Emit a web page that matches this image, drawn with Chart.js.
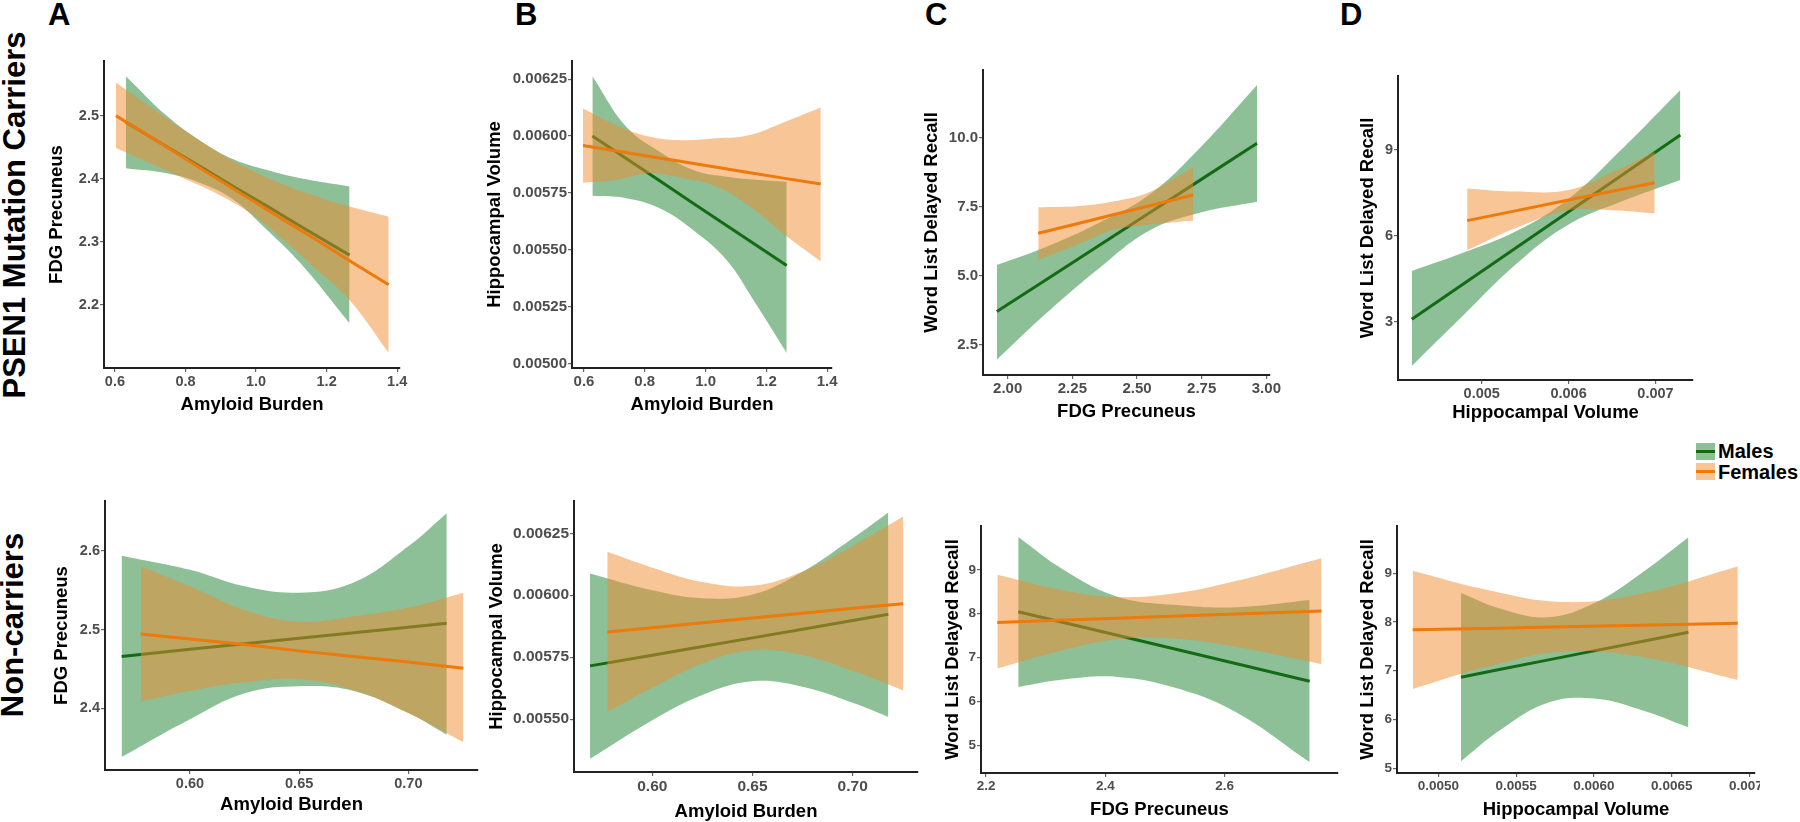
<!DOCTYPE html>
<html>
<head>
<meta charset="utf-8">
<script src="https://cdn.jsdelivr.net/npm/chart.js@4.4.0/dist/chart.umd.min.js"></script>
<style>
  html, body { margin: 0; padding: 0; background: #fff; }
  body { width: 1800px; height: 822px; position: relative; overflow: hidden; font-family: 'Liberation Sans', Arial, sans-serif; }
  canvas { position: absolute; }
  .letter { position: absolute; font-weight: bold; font-size: 31px; line-height: 31px; color: #000; }
  .row { position: absolute; font-weight: bold; font-size: 31px; line-height: 32px; white-space: nowrap; color: #000;
         transform: translate(-50%, -50%) rotate(-90deg); }
  .key { position: absolute; left: 1696px; width: 19px; height: 17px; }
  .key span { position: absolute; left: 0; right: 0; top: 7px; height: 3px; }
  .lab { position: absolute; left: 1718px; font-weight: bold; font-size: 20px; line-height: 20px; color: #000; }
</style>
</head>
<body>

<div class="row" style="left:15px; top:215px;">PSEN1 Mutation Carriers</div>
<div class="row" style="left:13px; top:625px;">Non-carriers</div>
<div class="letter" style="left:48px; top:-1px;">A</div>
<div class="letter" style="left:515px; top:-1px;">B</div>
<div class="letter" style="left:925px; top:-1px;">C</div>
<div class="letter" style="left:1340px; top:-1px;">D</div>

<div class="key" style="top:443px; background:rgba(30,130,50,0.5);"><span style="background:#156b15;"></span></div>
<div class="key" style="top:463px; background:rgba(240,140,45,0.5);"><span style="background:#ec7a0c;"></span></div>
<div class="lab" style="top:441px;">Males</div>
<div class="lab" style="top:462px;">Females</div>

<script>
// rows are [x, lower CI, fitted value, upper CI]

// A: carriers, FDG precuneus vs amyloid burden
const aMale = [
  [0.631, 2.417, 2.490, 2.563],
  [0.747, 2.409, 2.451, 2.500],
  [0.841, 2.394, 2.420, 2.461],
  [0.936, 2.367, 2.388, 2.431],
  [1.031, 2.319, 2.357, 2.414],
  [1.126, 2.266, 2.325, 2.401],
  [1.265, 2.171, 2.279, 2.388]
];
const aFemale = [
  [0.603, 2.449, 2.500, 2.553],
  [0.699, 2.425, 2.467, 2.515],
  [0.794, 2.401, 2.434, 2.478],
  [0.888, 2.377, 2.401, 2.444],
  [0.983, 2.346, 2.368, 2.415],
  [1.078, 2.303, 2.335, 2.391],
  [1.172, 2.256, 2.303, 2.372],
  [1.265, 2.208, 2.270, 2.356],
  [1.376, 2.124, 2.232, 2.340]
];
const aXTicks = ['0.6', '0.8', '1.0', '1.2', '1.4'];
const aYTicks = ['2.2', '2.3', '2.4', '2.5'];
const aXRange = [0.569, 1.408];
const aYRange = [2.100, 2.587];

// B: carriers, hippocampal volume vs amyloid burden
const bMale = [
  [0.6275, 0.005737, 0.006000, 0.006263],
  [0.739, 0.005727, 0.005901, 0.006041],
  [0.849, 0.005683, 0.005803, 0.005931],
  [0.959, 0.005587, 0.005705, 0.005851],
  [1.069, 0.005455, 0.005607, 0.005821],
  [1.157, 0.005280, 0.005529, 0.005809],
  [1.267, 0.005046, 0.005431, 0.005799]
];
const bFemale = [
  [0.5967, 0.005795, 0.005958, 0.006121],
  [0.7066, 0.005807, 0.005934, 0.006048],
  [0.8165, 0.005836, 0.005910, 0.005997],
  [0.9264, 0.005814, 0.005887, 0.005982],
  [1.0363, 0.005778, 0.005863, 0.005990],
  [1.146, 0.005690, 0.005839, 0.006005],
  [1.256, 0.005570, 0.005815, 0.006060],
  [1.379, 0.005448, 0.005789, 0.006126]
];
const bXTicks = ['0.6', '0.8', '1.0', '1.2', '1.4'];
const bYTicks = ['0.00500', '0.00525', '0.00550', '0.00575', '0.00600', '0.00625'];
const bXRange = [0.5605, 1.416];
const bYRange = [0.00498, 0.00633];

// C: carriers, word list delayed recall vs FDG precuneus
const cMale = [
  [1.958, 1.96, 3.71, 5.39],
  [2.15, 3.65, 4.87, 6.05],
  [2.35, 5.25, 6.08, 6.90],
  [2.55, 6.65, 7.29, 7.95],
  [2.75, 7.30, 8.50, 9.70],
  [2.964, 7.68, 9.80, 11.91]
];
const cFemale = [
  [2.118, 5.57, 6.54, 7.48],
  [2.280, 6.17, 6.91, 7.53],
  [2.408, 6.66, 7.21, 7.69],
  [2.537, 6.84, 7.51, 7.99],
  [2.666, 6.96, 7.81, 8.65],
  [2.717, 6.99, 7.93, 8.95]
];
const cXTicks = ['2.00', '2.25', '2.50', '2.75', '3.00'];
const cYTicks = ['2.5', '5.0', '7.5', '10.0'];
const cXRange = [1.9045, 3.014];
const cYRange = [1.41, 12.45];

// D: carriers, word list delayed recall vs hippocampal volume
const dMale = [
  [0.004195, 1.465, 3.093, 4.78],
  [0.0048, 3.27, 4.351, 5.43],
  [0.0054, 5.03, 5.598, 6.17],
  [0.006, 6.40, 6.846, 7.30],
  [0.0066, 7.19, 8.094, 8.99],
  [0.007286, 7.95, 9.52, 11.09]
];
const dFemale = [
  [0.004832, 5.51, 6.535, 7.66],
  [0.0054, 6.29, 6.884, 7.55],
  [0.006, 6.90, 7.252, 7.60],
  [0.0065, 6.90, 7.559, 8.22],
  [0.006991, 6.79, 7.86, 8.94]
];
const dXTicks = ['0.005', '0.006', '0.007'];
const dYTicks = ['3', '6', '9'];
const dXRange = [0.004036, 0.007432];
const dYRange = [0.977, 11.58];

// E: non-carriers, FDG precuneus vs amyloid burden
const eMale = [
  [0.5687, 2.338, 2.466, 2.594],
  [0.600, 2.386, 2.475, 2.576],
  [0.625, 2.419, 2.482, 2.555],
  [0.650, 2.428, 2.489, 2.547],
  [0.675, 2.422, 2.496, 2.560],
  [0.700, 2.394, 2.503, 2.606],
  [0.7176, 2.3665, 2.508, 2.648]
];
const eFemale = [
  [0.5774, 2.409, 2.4945, 2.5805],
  [0.600, 2.422, 2.488, 2.555],
  [0.625, 2.433, 2.481, 2.525],
  [0.650, 2.437, 2.473, 2.510],
  [0.675, 2.423, 2.466, 2.517],
  [0.700, 2.394, 2.459, 2.528],
  [0.7252, 2.357, 2.451, 2.547]
];
const eXTicks = ['0.60', '0.65', '0.70'];
const eYTicks = ['2.4', '2.5', '2.6'];
const eXRange = [0.5611, 0.7319];
const eYRange = [2.3216, 2.6635];

// F: non-carriers, hippocampal volume vs amyloid burden
const fMale = [
  [0.5689, 0.005340, 0.005715, 0.006088],
  [0.600, 0.005496, 0.005758, 0.006020],
  [0.625, 0.005598, 0.005793, 0.005988],
  [0.650, 0.005653, 0.005828, 0.006003],
  [0.675, 0.005631, 0.005863, 0.006095],
  [0.700, 0.005566, 0.005898, 0.006230],
  [0.7178, 0.005509, 0.005923, 0.006334]
];
const fFemale = [
  [0.5775, 0.005529, 0.005852, 0.006175],
  [0.600, 0.005627, 0.005869, 0.006111],
  [0.625, 0.005725, 0.005889, 0.006053],
  [0.650, 0.005778, 0.005908, 0.006038],
  [0.675, 0.005758, 0.005927, 0.006096],
  [0.700, 0.005695, 0.005947, 0.006199],
  [0.7252, 0.005616, 0.005966, 0.006317]
];
const fXTicks = ['0.60', '0.65', '0.70'];
const fYTicks = ['0.00550', '0.00575', '0.00600', '0.00625'];
const fXRange = [0.5609, 0.7326];
const fYRange = [0.005287, 0.00638];

// G: non-carriers, word list delayed recall vs FDG precuneus
const gMale = [
  [2.254, 6.333, 8.047, 9.747],
  [2.33, 6.50, 7.801, 9.00],
  [2.42, 6.56, 7.509, 8.39],
  [2.52, 6.30, 7.185, 8.20],
  [2.62, 5.75, 6.861, 8.15],
  [2.7425, 4.618, 6.463, 8.314]
];
const gFemale = [
  [2.219, 6.753, 7.80, 8.886],
  [2.32, 7.14, 7.849, 8.56],
  [2.42, 7.42, 7.897, 8.38],
  [2.52, 7.43, 7.946, 8.47],
  [2.62, 7.24, 7.994, 8.75],
  [2.7623, 6.851, 8.063, 9.267]
];
const gXTicks = ['2.2', '2.4', '2.6'];
const gYTicks = ['5', '6', '7', '8', '9'];
const gXRange = [2.1916, 2.790];
const gYRange = [4.37, 10.0];

// H: non-carriers, word list delayed recall vs hippocampal volume
const hMale = [
  [0.005145, 5.14, 6.867, 8.594],
  [0.0054, 5.786, 7.028, 8.27],
  [0.0057, 6.337, 7.217, 8.097],
  [0.006, 6.429, 7.407, 8.385],
  [0.0063, 6.20, 7.596, 8.992],
  [0.006607, 5.84, 7.79, 9.74]
];
const hFemale = [
  [0.004835, 6.624, 7.838, 9.052],
  [0.0053, 7.069, 7.868, 8.667],
  [0.0058, 7.39, 7.90, 8.41],
  [0.0063, 7.286, 7.933, 8.58],
  [0.006924, 6.81, 7.974, 9.138]
];
const hXTicks = ['0.0050', '0.0055', '0.0060', '0.0065', '0.0070'];
const hYTicks = ['5', '6', '7', '8', '9'];
const hXRange = [0.004734, 0.007035];
const hYRange = [4.9, 9.97];

const amyloid = 'Amyloid Burden';
const fdg = 'FDG Precuneus';
const hippo = 'Hippocampal Volume';
const recall = 'Word List Delayed Recall';

const maleLine = '#156b15';
const maleFill = 'rgba(30,130,50,0.5)';
const femaleLine = '#ec7a0c';
const femaleFill = 'rgba(240,140,45,0.5)';
const none = 'rgba(0,0,0,0)';
const fontFamily = "'Liberation Sans', Arial, sans-serif";

function col(rows, k) {
    return rows.map(r => ({ x: r[0], y: r[k] }));
}

function sexSets(rows, line, fill) {
    return [
        { data: col(rows, 2), borderColor: line, borderWidth: 3, pointRadius: 0, fill: false, tension: 0 },
        { data: col(rows, 3), borderColor: none, borderWidth: 0, pointRadius: 0, fill: '+1',
          backgroundColor: fill, tension: 0.4 },
        { data: col(rows, 1), borderColor: none, borderWidth: 0, pointRadius: 0, fill: false, tension: 0.4 }
    ];
}

function axis(range, ticks, title, size, titleSize, fitFn) {
    return {
        type: 'linear',
        min: range[0],
        max: range[1],
        afterBuildTicks: s => { s.ticks = ticks.map(t => ({ value: parseFloat(t) })); },
        afterFit: fitFn,
        ticks: {
            autoSkip: false, maxRotation: 0, padding: 1, color: '#4d4d4d',
            font: { family: fontFamily, size: size, weight: 'bold' },
            callback: (v, i) => ticks[i]
        },
        grid: { drawOnChartArea: false, drawTicks: true, tickLength: 4, color: '#666', lineWidth: 1.2 },
        border: { display: true, color: '#222', width: 2 },
        title: { display: true, text: title, color: '#000', padding: 0,
                 font: { family: fontFamily, size: titleSize, weight: 'bold' } }
    };
}

// box: plot area edges on the page plus the room left for the y axis (ml) and x axis (mb)
function panel(box, male, female, xr, yr, xt, yt, xTitle, yTitle) {
    const padTop = 10;
    const pr = box.pr === undefined ? 20 : box.pr;
    const canvas = document.createElement('canvas');
    const w = Math.round(box.ml + (box.R - box.L) + pr);
    const h = Math.round(padTop + (box.B - box.T) + box.mb);
    canvas.width = w;
    canvas.height = h;
    canvas.style.width = w + 'px';
    canvas.style.height = h + 'px';
    canvas.style.left = (box.L - box.ml) + 'px';
    canvas.style.top = (box.T - padTop) + 'px';
    document.body.appendChild(canvas);

    new Chart(canvas, {
        type: 'line',
        data: { datasets: sexSets(female, femaleLine, femaleFill).concat(sexSets(male, maleLine, maleFill)) },
        options: {
            responsive: false,
            animation: false,
            devicePixelRatio: 1,
            layout: { padding: { top: padTop, right: pr, left: 0, bottom: 0 } },
            plugins: { legend: { display: false }, tooltip: { enabled: false } },
            scales: {
                x: axis(xr, xt, xTitle, box.tick, 18.5, s => {
                    s.height = box.mb; s.paddingLeft = 0; s.paddingRight = 0;
                }),
                y: axis(yr, yt, yTitle, box.tick, 18.5, s => {
                    s.width = box.ml; s.paddingTop = 0; s.paddingBottom = 0;
                })
            }
        }
    });
}

panel({ L: 104, T: 61, R: 400, B: 368, ml: 58, mb: 48, tick: 14.5 },
      aMale, aFemale, aXRange, aYRange, aXTicks, aYTicks, amyloid, fdg);
panel({ L: 572, T: 61, R: 832, B: 368, ml: 88, mb: 48, tick: 15 },
      bMale, bFemale, bXRange, bYRange, bXTicks, bYTicks, amyloid, hippo);
panel({ L: 983, T: 70, R: 1270, B: 375, ml: 62, mb: 48, tick: 15 },
      cMale, cFemale, cXRange, cYRange, cXTicks, cYTicks, fdg, recall);
panel({ L: 1398, T: 76, R: 1693, B: 380, ml: 41, mb: 44, tick: 14.5 },
      dMale, dFemale, dXRange, dYRange, dXTicks, dYTicks, hippo, recall);

panel({ L: 105, T: 501, R: 478, B: 770, ml: 54, mb: 46, tick: 14.5 },
      eMale, eFemale, eXRange, eYRange, eXTicks, eYTicks, amyloid, fdg);
panel({ L: 574, T: 501, R: 918, B: 772, ml: 88, mb: 51, tick: 15.5 },
      fMale, fFemale, fXRange, fYRange, fXTicks, fYTicks, amyloid, hippo);
panel({ L: 981, T: 526, R: 1338, B: 773, ml: 39, mb: 48, tick: 13.5 },
      gMale, gFemale, gXRange, gYRange, gXTicks, gYTicks, fdg, recall);
panel({ L: 1397, T: 526, R: 1755, B: 773, ml: 40, mb: 48, tick: 13.5, pr: 5 },
      hMale, hFemale, hXRange, hYRange, hXTicks, hYTicks, hippo, recall);
</script>
</body>
</html>
